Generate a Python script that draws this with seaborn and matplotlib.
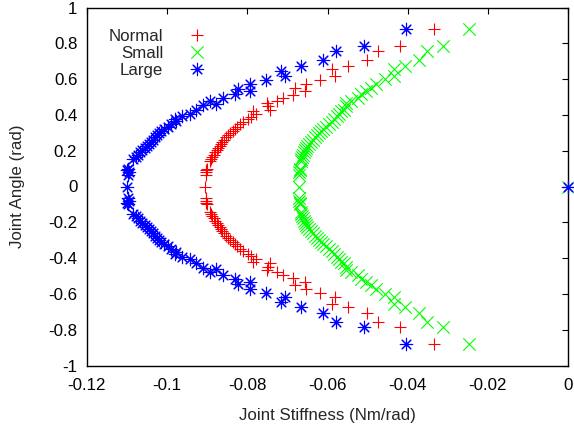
import matplotlib
matplotlib.use("Agg")
import matplotlib.pyplot as plt
import seaborn as sns
import pandas as pd

# ---------------- data ----------------
normal_angle_up = [0.880, 0.787, 0.756, 0.704, 0.672, 0.654, 0.617, 0.594, 0.571, 0.552, 0.533, 0.511,
                   0.496, 0.478, 0.465, 0.450, 0.430, 0.422, 0.404, 0.390, 0.376, 0.362, 0.348, 0.335,
                   0.320, 0.310, 0.298, 0.286, 0.274, 0.262, 0.250, 0.238, 0.226, 0.214, 0.202, 0.190,
                   0.178, 0.166, 0.154, 0.144, 0.100, 0.090, 0.080, 0.065, 0.000]
normal_stiff_up = [-0.0334, -0.0419, -0.0475, -0.0502, -0.0549, -0.0589, -0.0581, -0.0618, -0.0653, -0.0682,
                   -0.0657, -0.0686, -0.0711, -0.0727, -0.0751, -0.0749, -0.0744, -0.0786, -0.0778, -0.0790,
                   -0.0798, -0.0810, -0.0819, -0.0825, -0.0830, -0.0836, -0.0842, -0.0847, -0.0853, -0.0858,
                   -0.0862, -0.0866, -0.0869, -0.0872, -0.0876, -0.0880, -0.0884, -0.0887, -0.0891, -0.0894,
                   -0.0901, -0.0903, -0.0902, -0.0904, -0.0906]
normal_angle_low = [-0.065, -0.080, -0.090, -0.100, -0.144, -0.154, -0.166, -0.178, -0.190, -0.202, -0.214,
                    -0.226, -0.238, -0.250, -0.262, -0.274, -0.286, -0.298, -0.310, -0.320, -0.335, -0.348,
                    -0.362, -0.376, -0.390, -0.404, -0.422, -0.430, -0.450, -0.465, -0.478, -0.496, -0.511,
                    -0.533, -0.552, -0.571, -0.594, -0.617, -0.654, -0.672, -0.704, -0.756, -0.787, -0.880,
                    0.0]
normal_stiff_low = [-0.0904, -0.0902, -0.0903, -0.0901, -0.0894, -0.0891, -0.0887, -0.0884, -0.0880, -0.0876,
                    -0.0872, -0.0869, -0.0866, -0.0862, -0.0858, -0.0853, -0.0847, -0.0842, -0.0836, -0.0830,
                    -0.0825, -0.0819, -0.0810, -0.0798, -0.0790, -0.0778, -0.0786, -0.0744, -0.0749, -0.0751,
                    -0.0727, -0.0711, -0.0686, -0.0657, -0.0682, -0.0653, -0.0618, -0.0581, -0.0589, -0.0549,
                    -0.0502, -0.0475, -0.0419, -0.0334, 0.0]

small_angle_up = [0.880, 0.787, 0.756, 0.704, 0.672, 0.654, 0.620, 0.598, 0.571, 0.552, 0.533, 0.515,
                  0.496, 0.478, 0.465, 0.450, 0.430, 0.422, 0.404, 0.394, 0.376, 0.362, 0.348, 0.335,
                  0.320, 0.310, 0.298, 0.286, 0.274, 0.262, 0.250, 0.238, 0.226, 0.214, 0.202, 0.190,
                  0.178, 0.166, 0.154, 0.144, 0.100, 0.090, 0.080, 0.065, 0.000]
small_stiff_up = [-0.0248, -0.0311, -0.0353, -0.0371, -0.0406, -0.0433, -0.0433, -0.0456, -0.0479, -0.0491,
                  -0.0503, -0.0516, -0.0524, -0.0541, -0.0553, -0.0553, -0.0560, -0.0566, -0.0572, -0.0576,
                  -0.0583, -0.0590, -0.0597, -0.0603, -0.0610, -0.0615, -0.0621, -0.0627, -0.0632, -0.0637,
                  -0.0642, -0.0646, -0.0650, -0.0653, -0.0656, -0.0659, -0.0661, -0.0663, -0.0665, -0.0666,
                  -0.0668, -0.0669, -0.0671, -0.0670, -0.0670]
small_angle_low = [-0.065, -0.080, -0.090, -0.100, -0.144, -0.154, -0.166, -0.178, -0.190, -0.202, -0.214,
                   -0.226, -0.238, -0.250, -0.262, -0.274, -0.286, -0.298, -0.310, -0.320, -0.335, -0.348,
                   -0.362, -0.376, -0.394, -0.404, -0.422, -0.430, -0.450, -0.465, -0.478, -0.496, -0.515,
                   -0.533, -0.552, -0.571, -0.598, -0.620, -0.654, -0.672, -0.704, -0.756, -0.787, -0.880,
                   0.0]
small_stiff_low = [-0.0670, -0.0671, -0.0669, -0.0668, -0.0666, -0.0665, -0.0663, -0.0661, -0.0659, -0.0656,
                   -0.0653, -0.0650, -0.0646, -0.0642, -0.0637, -0.0632, -0.0627, -0.0621, -0.0615, -0.0610,
                   -0.0603, -0.0597, -0.0590, -0.0583, -0.0576, -0.0572, -0.0566, -0.0560, -0.0553, -0.0553,
                   -0.0541, -0.0524, -0.0516, -0.0503, -0.0491, -0.0479, -0.0456, -0.0433, -0.0433, -0.0406,
                   -0.0371, -0.0353, -0.0311, -0.0248, 0.0]

large_angle_up = [0.880, 0.787, 0.756, 0.704, 0.672, 0.644, 0.617, 0.594, 0.570, 0.543, 0.533, 0.515,
                  0.496, 0.478, 0.462, 0.458, 0.430, 0.404, 0.394, 0.376, 0.367, 0.350, 0.335, 0.320,
                  0.310, 0.298, 0.286, 0.274, 0.262, 0.250, 0.238, 0.226, 0.214, 0.202, 0.190, 0.178,
                  0.166, 0.154, 0.100, 0.090, 0.080, 0.065, 0.000]
large_stiff_up = [-0.0404, -0.0510, -0.0580, -0.0612, -0.0665, -0.0715, -0.0707, -0.0753, -0.0794, -0.0823,
                  -0.0794, -0.0831, -0.0860, -0.0894, -0.0877, -0.0910, -0.0927, -0.0943, -0.0964, -0.0980,
                  -0.0977, -0.0990, -0.0997, -0.1008, -0.1016, -0.1020, -0.1025, -0.1030, -0.1035, -0.1040,
                  -0.1045, -0.1050, -0.1056, -0.1062, -0.1067, -0.1073, -0.1079, -0.1085, -0.1097, -0.1099,
                  -0.1096, -0.1098, -0.1100]
large_angle_low = [-0.065, -0.080, -0.090, -0.100, -0.154, -0.166, -0.178, -0.190, -0.202, -0.214, -0.226,
                   -0.238, -0.250, -0.262, -0.274, -0.286, -0.298, -0.310, -0.320, -0.335, -0.350, -0.367,
                   -0.376, -0.394, -0.404, -0.430, -0.458, -0.462, -0.478, -0.496, -0.515, -0.533, -0.543,
                   -0.570, -0.594, -0.617, -0.644, -0.672, -0.704, -0.756, -0.787, -0.880, 0.0]
large_stiff_low = [-0.1098, -0.1096, -0.1099, -0.1097, -0.1085, -0.1079, -0.1073, -0.1067, -0.1062, -0.1056,
                   -0.1050, -0.1045, -0.1040, -0.1035, -0.1030, -0.1025, -0.1020, -0.1016, -0.1008, -0.0997,
                   -0.0990, -0.0977, -0.0980, -0.0964, -0.0943, -0.0927, -0.0910, -0.0877, -0.0894, -0.0860,
                   -0.0831, -0.0794, -0.0823, -0.0794, -0.0753, -0.0707, -0.0715, -0.0665, -0.0612, -0.0580,
                   -0.0510, -0.0404, 0.0]

series_names = ["Normal", "Small", "Large"]
x_ticks = [-0.12, -0.10, -0.08, -0.06, -0.04, -0.02, 0.0]
x_tick_labels = ["-0.12", "-0.1", "-0.08", "-0.06", "-0.04", "-0.02", "0"]
y_ticks = [-1.0, -0.8, -0.6, -0.4, -0.2, 0.0, 0.2, 0.4, 0.6, 0.8, 1.0]
y_tick_labels = ["-1", "-0.8", "-0.6", "-0.4", "-0.2", "0", "0.2", "0.4", "0.6", "0.8", "1"]
x_label = "Joint Stiffness (Nm/rad)"
y_label = "Joint Angle (rad)"

# ---------------- styling ----------------
sns.set_style("white")
plt.rcParams["font.family"] = ["Liberation Sans", "DejaVu Sans"]
plt.rcParams["axes.unicode_minus"] = False
FS = 12.2

frames = {
    "Normal": pd.DataFrame({"stiff": normal_stiff_up + normal_stiff_low,
                            "angle": normal_angle_up + normal_angle_low}),
    "Small": pd.DataFrame({"stiff": small_stiff_up + small_stiff_low,
                           "angle": small_angle_up + small_angle_low}),
    "Large": pd.DataFrame({"stiff": large_stiff_up + large_stiff_low,
                           "angle": large_angle_up + large_angle_low}),
}
markers = {"Normal": "+", "Small": "x", "Large": (8, 2, 0)}
colors = {"Normal": "#ff0000", "Small": "#00ff00", "Large": "#0000ff"}

fig = plt.figure(figsize=(5.74, 4.26), dpi=100)
ax = fig.add_axes([87 / 574, (426 - 365.5) / 426, 481 / 574, 358 / 426])

for i, name in enumerate(series_names):
    sns.scatterplot(data=frames[name], x="stiff", y="angle", marker=markers[name],
                    color=colors[name], s=80, linewidth=0.8, ax=ax, label=name,
                    clip_on=False, zorder=3 + i)

ax.set_xlim(-0.12, 0.0)
ax.set_ylim(-1.0, 1.0)
ax.set_xticks(x_ticks)
ax.set_xticklabels(x_tick_labels)
ax.set_yticks(y_ticks)
ax.set_yticklabels(y_tick_labels)
ax.tick_params(direction="in", length=4.5, width=0.8, top=True, right=True,
               labelsize=FS, colors="black")
ax.tick_params(axis="x", pad=9)
ax.tick_params(axis="y", pad=7)
for sp in ax.spines.values():
    sp.set_color("black")
    sp.set_linewidth(1.0)
ax.set_xlabel(x_label, fontsize=FS, labelpad=11)
ax.set_ylabel(y_label, fontsize=FS, labelpad=17)

handles, labels = ax.get_legend_handles_labels()
ax.legend(handles, labels, loc="upper left", bbox_to_anchor=(0.0457, 0.940),
          markerfirst=False, frameon=False, borderpad=0, borderaxespad=0,
          handletextpad=1.0, handlelength=2.0, labelspacing=0.12,
          scatterpoints=1, scatteryoffsets=[0.5], fontsize=FS)

fig.savefig("out.png", dpi=100, facecolor="white")
